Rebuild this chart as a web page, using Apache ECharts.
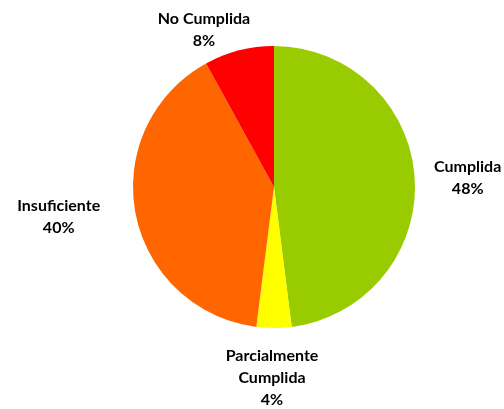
<!DOCTYPE html>
<html><head><meta charset="utf-8">
<script src="https://cdn.jsdelivr.net/npm/echarts@6/dist/echarts.min.js"></script>
<style>html,body{margin:0;padding:0;background:#fff}#c{width:504px;height:409px}</style>
</head><body><div id="c"></div>
<script>
const categories = ['Cumplida', 'Parcialmente\nCumplida', 'Insuficiente', 'No Cumplida'];
const values = [48, 4, 40, 8];
const colors = ['#99CC00', '#FFFF00', '#FF6600', '#FF0000'];

// label nudges (dx, dy) relative to ECharts' default outside anchor, per slice
const labelShift = [[22, 0], [17, 38], [-46, 1], [-13, -9]];

const chart = echarts.init(document.getElementById('c'));
chart.setOption({
  animation: false,
  series: [{
    type: 'pie',
    center: [274, 187],
    radius: 141,
    startAngle: 90,
    clockwise: true,
    data: categories.map((n, i) => ({ name: n, value: values[i], itemStyle: { color: colors[i] } })),
    label: {
      show: true,
      position: 'outside',
      formatter: '{b}\n{d}%',
      fontFamily: 'Lato',
      fontWeight: 'bold',
      fontSize: 16,
      lineHeight: 22,
      color: '#000',
      overflow: 'none'
    },
    labelLine: { show: false, length: 12, length2: 14 },
    labelLayout: function (p) {
      const s = labelShift[p.dataIndex];
      return { align: 'center', dx: s[0], dy: s[1] };
    },
    itemStyle: { borderWidth: 0 }
  }]
});
</script></body></html>
